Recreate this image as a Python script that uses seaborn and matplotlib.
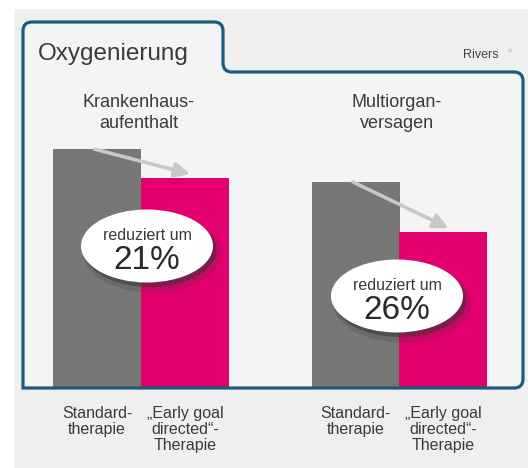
import seaborn as sns
import matplotlib.pyplot as plt
import pandas as pd
from matplotlib.path import Path
from matplotlib.patches import PathPatch, Ellipse, Rectangle

# Werte (relative Balkenhoehen)
gruppen = ['Krankenhaus-\naufenthalt', 'Multiorgan-\nversagen']
therapien = ['Standard-\ntherapie', '„Early goal\ndirected“-\nTherapie']
standard = [75.6, 65.2]
egdt = [66.5, 49.4]
reduktion = ['21%', '26%']

df = pd.DataFrame({
    'Gruppe': gruppen * 2,
    'Therapie': [therapien[0]] * 2 + [therapien[1]] * 2,
    'Wert': standard + egdt,
})

W, H = 528, 468


def fx(x):
    return x / W


def fy(y):
    return 1 - y / H


sns.set_theme(style='white')
plt.rcParams['font.family'] = ['Liberation Sans', 'DejaVu Sans']
textfarbe = '#3a3a3a'

fig = plt.figure(figsize=(5.28, 4.68), dpi=100, facecolor='#efefef')

# weisse Raender oben und links
fig.add_artist(Rectangle((0, fy(8)), 1, 1 - fy(8), transform=fig.transFigure,
                         color='white', zorder=-10))
fig.add_artist(Rectangle((0, 0), fx(13), 1, transform=fig.transFigure,
                         color='white', zorder=-10))

# Rahmen mit Reiter
L, R, T, B = 23, 523, 22, 388
tab, top, r = 223, 72, 9
verts = [(L, B), (L, T + r), (L, T), (L + r, T), (tab - r, T), (tab, T), (tab, T + r),
         (tab, top - r), (tab, top), (tab + r, top), (R - r, top), (R, top), (R, top + r),
         (R, B - r), (R, B), (R - r, B), (L, B)]
codes = [Path.MOVETO, Path.LINETO, Path.CURVE3, Path.CURVE3, Path.LINETO, Path.CURVE3,
         Path.CURVE3, Path.LINETO, Path.CURVE3, Path.CURVE3, Path.LINETO, Path.CURVE3,
         Path.CURVE3, Path.LINETO, Path.CURVE3, Path.CURVE3, Path.CLOSEPOLY]
pfad = Path([(fx(x), fy(y)) for x, y in verts], codes)
fig.add_artist(PathPatch(pfad, transform=fig.transFigure, facecolor='#f4f4f4',
                         edgecolor='none', zorder=-5))

# Balken
ax = fig.add_axes([fx(L), fy(B), fx(R) - fx(L), (B - top) / H])
ax.set_facecolor('none')
sns.barplot(data=df, x='Gruppe', y='Wert', hue='Therapie', hue_order=therapien,
            palette=['#777777', '#e2006e'], width=0.68, saturation=1,
            linewidth=0, legend=False, ax=ax)
ax.set_ylim(0, 100)
ax.set_xlim(-(141 - L) / 258.5, 1 + (R - 399.5) / 258.5)
for s in ax.spines.values():
    s.set_visible(False)
ax.set_yticks([])
ax.set_xticks([g + o for g in (0, 1) for o in (-0.17, 0.17)])
ax.set_xticklabels(therapien * 2, fontsize=11.5, color=textfarbe, linespacing=1.1)
ax.tick_params(axis='x', length=0, pad=13)
ax.set_xlabel('')
ax.set_ylabel('')

for i, g in enumerate(gruppen):
    ax.text(i - 0.01, 87, g, ha='center', va='center', fontsize=13,
            color=textfarbe, linespacing=1.3)
    ax.annotate('', xy=(i + 0.19, egdt[i] + 1.2), xytext=(i - 0.18, standard[i]),
                annotation_clip=False,
                arrowprops=dict(arrowstyle='-|>,head_length=0.45,head_width=0.22',
                                color='#c8c8c8', lw=2.6, mutation_scale=20,
                                shrinkA=0, shrinkB=0))

# Rahmenlinie ueber den Balken
fig.add_artist(PathPatch(pfad, transform=fig.transFigure, facecolor='none',
                         edgecolor='#1d5a80', lw=2.3, zorder=5))

# Ellipsen mit Reduktion
mitten = [(147, 246), (397, 296)]
for (cx, cy), txt in zip(mitten, reduktion):
    for dx, dy, a, grow in [(5, 7, 0.18, 6), (3, 4, 0.5, 1)]:
        fig.add_artist(Ellipse((fx(cx + dx), fy(cy + dy)), (132 + grow) / W, (73 + grow) / H,
                               transform=fig.transFigure, color='#333333', alpha=a,
                               lw=0, zorder=6))
    fig.add_artist(Ellipse((fx(cx), fy(cy)), 132 / W, 73 / H, transform=fig.transFigure,
                           color='white', lw=0, zorder=7))
    fig.text(fx(cx), fy(cy - 6), 'reduziert um', ha='center', va='baseline',
             fontsize=11.5, color=textfarbe, zorder=8)
    fig.text(fx(cx), fy(cy + 23), txt, ha='center', va='baseline',
             fontsize=24, color='#2a2a2a', zorder=8)

fig.text(fx(38), fy(60), 'Oxygenierung', fontsize=17.5, color=textfarbe, va='baseline')
fig.text(fx(463), fy(58), 'Rivers', fontsize=9, color='#444444', va='baseline')
fig.text(fx(508), fy(53), '≡', fontsize=5, color='#c0c0c0', va='baseline')

fig.savefig('out.png', dpi=100)
